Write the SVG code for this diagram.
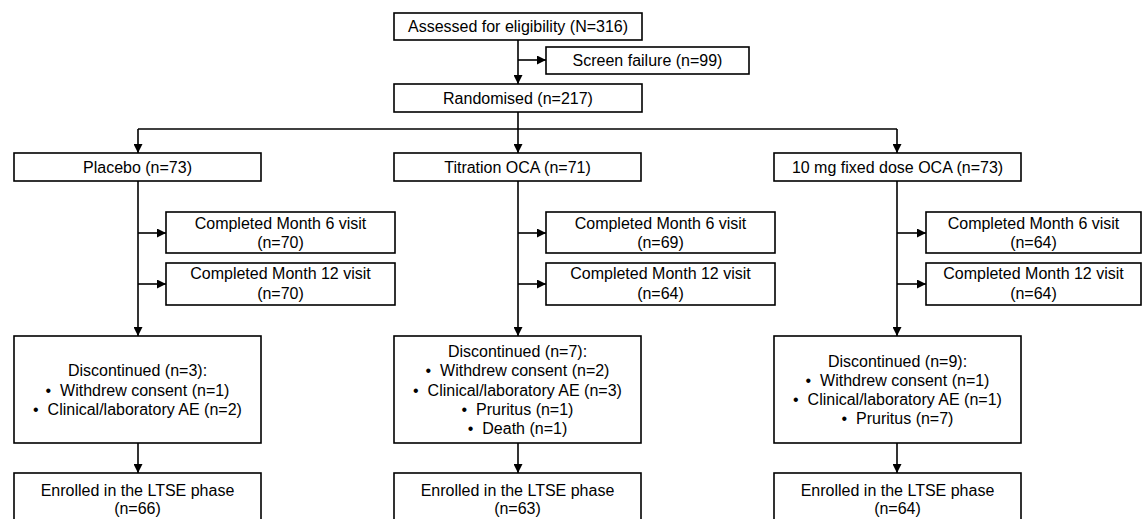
<svg xmlns="http://www.w3.org/2000/svg" width="1145" height="519" viewBox="0 0 1145 519">
<defs>
<style>
.box{fill:#fff;stroke:#000;stroke-width:1.6}
.ln{fill:none;stroke:#000;stroke-width:1.6}
.ar{marker-end:url(#arr)}
text{font-family:"Liberation Sans",Arial,sans-serif;font-size:16px;fill:#000;text-anchor:middle;white-space:pre}
</style>
<marker id="arr" markerUnits="userSpaceOnUse" markerWidth="9" markerHeight="9" refX="8" refY="4" orient="auto" viewBox="0 0 8 8">
<path d="M0,0 L8,4 L0,8 z" fill="#000"/>
</marker>
</defs>
<rect width="1145" height="519" fill="#fff"/>
<g id="connectors">
<path class="ln ar" d="M518,40 V84"/>
<path class="ln ar" d="M518,60 H546"/>
<path class="ln ar" d="M518,112 V153"/>
<path class="ln" d="M138,129 H897"/>
<path class="ln ar" d="M138,129 V153"/>
<path class="ln ar" d="M897,129 V153"/>
<path class="ln ar" d="M138,181 V336"/>
<path class="ln ar" d="M138,233 H166"/>
<path class="ln ar" d="M138,284 H166"/>
<path class="ln ar" d="M138,443 V473"/>
<path class="ln ar" d="M518,181 V336"/>
<path class="ln ar" d="M518,233 H546"/>
<path class="ln ar" d="M518,284 H546"/>
<path class="ln ar" d="M518,443 V473"/>
<path class="ln ar" d="M897,181 V336"/>
<path class="ln ar" d="M897,233 H926"/>
<path class="ln ar" d="M897,284 H926"/>
<path class="ln ar" d="M897,443 V473"/>
</g>
<g id="assessed"><rect class="box" x="394" y="13" width="248" height="27"/><text x="518" y="32">Assessed for eligibility (N=316)</text></g>
<g id="screenfail"><rect class="box" x="546" y="47" width="203" height="27"/><text x="647.5" y="66">Screen failure (n=99)</text></g>
<g id="randomised"><rect class="box" x="394" y="84" width="248" height="28"/><text x="518" y="104">Randomised (n=217)</text></g>

<g id="placebo"><rect class="box" x="14" y="153" width="247" height="28"/><text x="137.5" y="173">Placebo (n=73)</text></g>
<g id="titration"><rect class="box" x="394" y="153" width="247" height="28"/><text x="517.5" y="173">Titration OCA (n=71)</text></g>
<g id="fixed"><rect class="box" x="774" y="153" width="247" height="28"/><text x="897.5" y="173">10 mg fixed dose OCA (n=73)</text></g>

<g id="p_m6"><rect class="box" x="166" y="212" width="229" height="41"/><text x="280.5" y="229">Completed Month 6 visit</text><text x="280.5" y="248">(n=70)</text></g>
<g id="p_m12"><rect class="box" x="166" y="263" width="229" height="42"/><text x="280.5" y="279">Completed Month 12 visit</text><text x="280.5" y="299">(n=70)</text></g>
<g id="t_m6"><rect class="box" x="546" y="212" width="229" height="41"/><text x="660.5" y="229">Completed Month 6 visit</text><text x="660.5" y="248">(n=69)</text></g>
<g id="t_m12"><rect class="box" x="546" y="263" width="229" height="42"/><text x="660.5" y="279">Completed Month 12 visit</text><text x="660.5" y="299">(n=64)</text></g>
<g id="f_m6"><rect class="box" x="926" y="212" width="215" height="41"/><text x="1033.5" y="229">Completed Month 6 visit</text><text x="1033.5" y="248">(n=64)</text></g>
<g id="f_m12"><rect class="box" x="926" y="263" width="215" height="42"/><text x="1033.5" y="279">Completed Month 12 visit</text><text x="1033.5" y="299">(n=64)</text></g>

<g id="p_disc"><rect class="box" x="14" y="336" width="247" height="107"/>
<text x="137.5" y="376">Discontinued (n=3):</text>
<text x="137.5" y="396">•  Withdrew consent (n=1)</text>
<text x="137.5" y="415">•  Clinical/laboratory AE (n=2)</text></g>
<g id="t_disc"><rect class="box" x="394" y="336" width="247" height="107"/>
<text x="517.5" y="357">Discontinued (n=7):</text>
<text x="517.5" y="376">•  Withdrew consent (n=2)</text>
<text x="517.5" y="396">•  Clinical/laboratory AE (n=3)</text>
<text x="517.5" y="415">•  Pruritus (n=1)</text>
<text x="517.5" y="434">•  Death (n=1)</text></g>
<g id="f_disc"><rect class="box" x="774" y="336" width="247" height="107"/>
<text x="897.5" y="367">Discontinued (n=9):</text>
<text x="897.5" y="386">•  Withdrew consent (n=1)</text>
<text x="897.5" y="405">•  Clinical/laboratory AE (n=1)</text>
<text x="897.5" y="424">•  Pruritus (n=7)</text></g>

<g id="p_ltse"><rect class="box" x="14" y="473" width="247" height="50"/><text x="137.5" y="496">Enrolled in the LTSE phase</text><text x="137.5" y="514">(n=66)</text></g>
<g id="t_ltse"><rect class="box" x="394" y="473" width="247" height="50"/><text x="517.5" y="496">Enrolled in the LTSE phase</text><text x="517.5" y="514">(n=63)</text></g>
<g id="f_ltse"><rect class="box" x="774" y="473" width="247" height="50"/><text x="897.5" y="496">Enrolled in the LTSE phase</text><text x="897.5" y="514">(n=64)</text></g>
</svg>
